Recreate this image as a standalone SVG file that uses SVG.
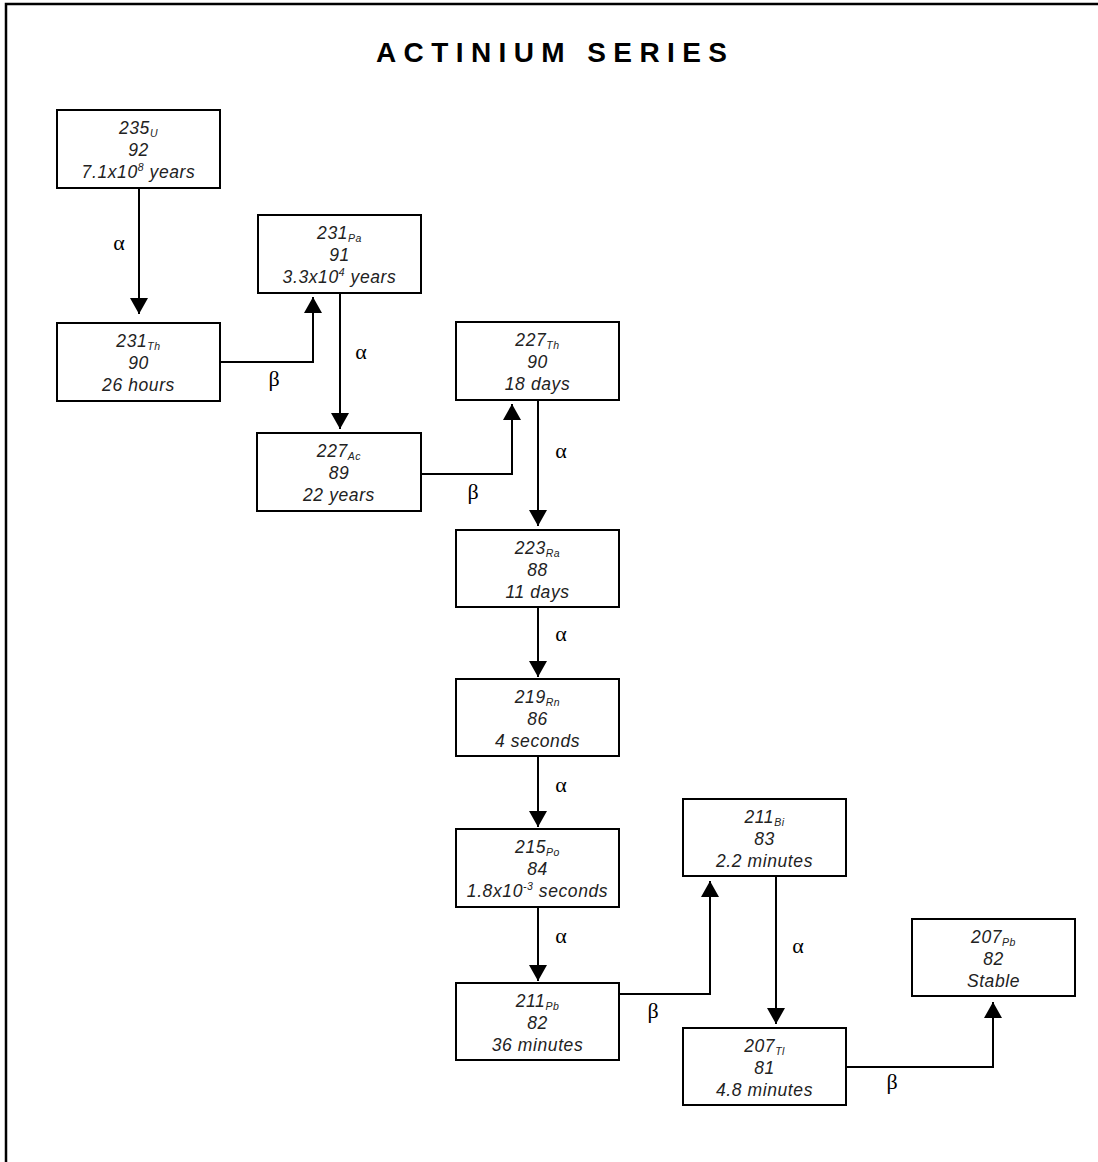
<svg xmlns="http://www.w3.org/2000/svg" width="1098" height="1162" viewBox="0 0 1098 1162">
<defs>
<style>
.frame{fill:none;stroke:#000;stroke-width:2.5}
.box{fill:#fff;stroke:#000;stroke-width:2}
.t{font-family:"Liberation Sans",Arial,sans-serif;font-style:italic;font-size:17.5px;letter-spacing:0.6px;fill:#222;text-anchor:middle}
.s{font-size:10.5px;letter-spacing:0.5px}
.title{font-family:"Liberation Sans",Arial,sans-serif;font-weight:bold;font-size:28px;letter-spacing:7.4px;fill:#000}
.c{fill:none;stroke:#000;stroke-width:2}
.g{font-family:"Liberation Serif","Times New Roman",serif;font-size:22px;fill:#000;text-anchor:middle}
</style>
<marker id="ah" markerUnits="userSpaceOnUse" markerWidth="18" markerHeight="18" refX="16" refY="9" orient="auto">
<path d="M0,0 L16,9 L0,18 Z" fill="#000"/>
</marker>
</defs>
<rect width="1098" height="1162" fill="#fff"/>
<rect class="frame" x="6" y="4" width="1200" height="1300"/>
<text class="title" x="376" y="62">ACTINIUM SERIES</text>

<g id="connectors">
<path class="c" d="M139,189 V314" marker-end="url(#ah)"/>
<path class="c" d="M221,362 H313 V297" marker-end="url(#ah)"/>
<path class="c" d="M340,293 V429" marker-end="url(#ah)"/>
<path class="c" d="M421,474 H512 V404" marker-end="url(#ah)"/>
<path class="c" d="M538,400 V526" marker-end="url(#ah)"/>
<path class="c" d="M538,607 V677" marker-end="url(#ah)"/>
<path class="c" d="M538,756 V827" marker-end="url(#ah)"/>
<path class="c" d="M538,907 V981" marker-end="url(#ah)"/>
<path class="c" d="M619,994 H710 V881" marker-end="url(#ah)"/>
<path class="c" d="M776,877 V1024" marker-end="url(#ah)"/>
<path class="c" d="M846,1067 H993 V1002" marker-end="url(#ah)"/>
<text class="g" x="119" y="250">α</text>
<text class="g" x="274" y="386">β</text>
<text class="g" x="361" y="359">α</text>
<text class="g" x="473" y="499">β</text>
<text class="g" x="561" y="458">α</text>
<text class="g" x="561" y="641">α</text>
<text class="g" x="561" y="792">α</text>
<text class="g" x="561" y="943">α</text>
<text class="g" x="653" y="1018">β</text>
<text class="g" x="798" y="953">α</text>
<text class="g" x="892" y="1089">β</text>
</g>

<g id="U235">
<rect class="box" x="57" y="110" width="163" height="78"/>
<text class="t" x="138.5" y="134">235<tspan class="s" dy="2.5">U</tspan></text>
<text class="t" x="138.5" y="156">92</text>
<text class="t" x="138.5" y="178">7.1x10<tspan class="s" dy="-7">8</tspan><tspan dy="7"> years</tspan></text>
</g>
<g id="Th231">
<rect class="box" x="57" y="323" width="163" height="78"/>
<text class="t" x="138.5" y="347">231<tspan class="s" dy="2.5">Th</tspan></text>
<text class="t" x="138.5" y="369">90</text>
<text class="t" x="138.5" y="391">26 hours</text>
</g>
<g id="Pa231">
<rect class="box" x="258" y="215" width="163" height="78"/>
<text class="t" x="339.5" y="239">231<tspan class="s" dy="2.5">Pa</tspan></text>
<text class="t" x="339.5" y="261">91</text>
<text class="t" x="339.5" y="283">3.3x10<tspan class="s" dy="-7">4</tspan><tspan dy="7"> years</tspan></text>
</g>
<g id="Ac227">
<rect class="box" x="257" y="433" width="164" height="78"/>
<text class="t" x="339" y="457">227<tspan class="s" dy="2.5">Ac</tspan></text>
<text class="t" x="339" y="479">89</text>
<text class="t" x="339" y="501">22 years</text>
</g>
<g id="Th227">
<rect class="box" x="456" y="322" width="163" height="78"/>
<text class="t" x="537.5" y="346">227<tspan class="s" dy="2.5">Th</tspan></text>
<text class="t" x="537.5" y="368">90</text>
<text class="t" x="537.5" y="390">18 days</text>
</g>
<g id="Ra223">
<rect class="box" x="456" y="530" width="163" height="77"/>
<text class="t" x="537.5" y="554">223<tspan class="s" dy="2.5">Ra</tspan></text>
<text class="t" x="537.5" y="576">88</text>
<text class="t" x="537.5" y="598">11 days</text>
</g>
<g id="Rn219">
<rect class="box" x="456" y="679" width="163" height="77"/>
<text class="t" x="537.5" y="703">219<tspan class="s" dy="2.5">Rn</tspan></text>
<text class="t" x="537.5" y="725">86</text>
<text class="t" x="537.5" y="747">4 seconds</text>
</g>
<g id="Po215">
<rect class="box" x="456" y="829" width="163" height="78"/>
<text class="t" x="537.5" y="853">215<tspan class="s" dy="2.5">Po</tspan></text>
<text class="t" x="537.5" y="875">84</text>
<text class="t" x="537.5" y="897">1.8x10<tspan class="s" dy="-7">-3</tspan><tspan dy="7"> seconds</tspan></text>
</g>
<g id="Pb211">
<rect class="box" x="456" y="983" width="163" height="77"/>
<text class="t" x="537.5" y="1007">211<tspan class="s" dy="2.5">Pb</tspan></text>
<text class="t" x="537.5" y="1029">82</text>
<text class="t" x="537.5" y="1051">36 minutes</text>
</g>
<g id="Bi211">
<rect class="box" x="683" y="799" width="163" height="77"/>
<text class="t" x="764.5" y="823">211<tspan class="s" dy="2.5">Bi</tspan></text>
<text class="t" x="764.5" y="845">83</text>
<text class="t" x="764.5" y="867">2.2 minutes</text>
</g>
<g id="Tl207">
<rect class="box" x="683" y="1028" width="163" height="77"/>
<text class="t" x="764.5" y="1052">207<tspan class="s" dy="2.5">Tl</tspan></text>
<text class="t" x="764.5" y="1074">81</text>
<text class="t" x="764.5" y="1096">4.8 minutes</text>
</g>
<g id="Pb207">
<rect class="box" x="912" y="919" width="163" height="77"/>
<text class="t" x="993.5" y="943">207<tspan class="s" dy="2.5">Pb</tspan></text>
<text class="t" x="993.5" y="965">82</text>
<text class="t" x="993.5" y="987">Stable</text>
</g>
</svg>
